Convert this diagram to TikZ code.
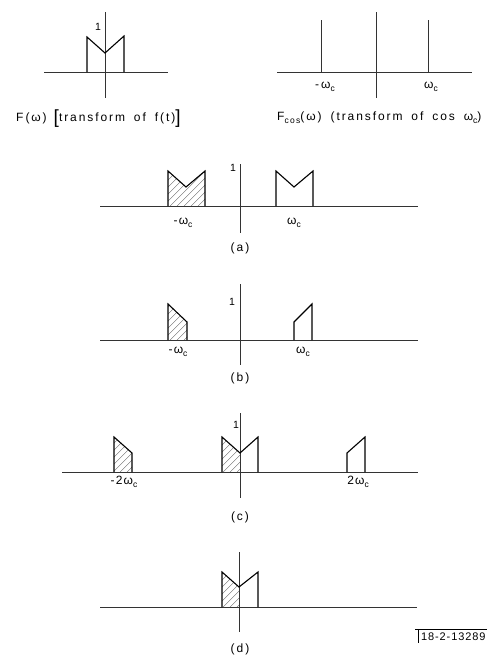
\documentclass[tikz,border=0pt]{standalone}
\usepackage{fontspec}
\setmainfont{Liberation Sans}[LetterSpace=10]
\newfontfamily\capfont{Liberation Sans}[LetterSpace=16,WordSpace=1.7]
\newfontfamily\tagfont{Liberation Sans}[LetterSpace=8]
\newcommand{\sbc}[1]{\raisebox{-0.5ex}{\fontsize{8.5}{8.5}\selectfont #1}}
\begin{document}
\begin{tikzpicture}[x=1pt,y=-1pt,
  axisline/.style={line width=0.6pt, black!80},
  sigline/.style={line width=1.1pt, line join=miter},
  impulse/.style={line width=0.6pt, black!80},
  hatchline/.style={line width=0.35pt, black!60},
  onelbl/.style={font=\fontsize{10.5}{10.5}\selectfont, inner sep=0pt},
  lbl/.style={font=\fontsize{12}{12}\selectfont, inner sep=0pt},
  captext/.style={font=\capfont\fontsize{12}{12}\selectfont, inner sep=0pt}]
\useasboundingbox (0,0) rectangle (487,656);
% ---------- top left
\draw[axisline] (44,72) -- (168,72);
\draw[axisline] (105,12) -- (105,98);
\draw[sigline] (87,72) -- (87,37) -- (105,53) -- (124,36) -- (124,72);
\node[onelbl] (one0) at (98,27) {1};
\node[captext, anchor=base west] (capL) at (16,121) {F\,(ω)\hspace{7pt}\raisebox{-0.22em}{\fontsize{19}{19}\selectfont[}transform of f(t)\raisebox{-0.22em}{\fontsize{19}{19}\selectfont]}};
% ---------- top right
\draw[axisline] (277,72) -- (472,72);
\draw[axisline] (376,12) -- (376,98);
\draw[impulse] (321,20) -- (321,72);
\draw[impulse] (428,20) -- (428,72);
\node[lbl] (mwc0) at (325,87) {-\,ω\sbc{c}};
\node[lbl] (wc0) at (431,87) {ω\sbc{c}};
\node[captext, anchor=base west] (capR) at (277,120.5) {F\sbc{cos}(ω) (transform of cos ω\sbc{c})};
% ---------- (a)
\draw[axisline] (100,206) -- (418,206);
\draw[axisline] (240,164) -- (240,233);
\begin{scope}
\clip (168,206) -- (168,171) -- (186,187) -- (205,171) -- (205,206) -- cycle;
\foreach \k in {0,7,...,100} \draw[hatchline] (100+\k,206) -- ++(60,-60);
\end{scope}
\draw[sigline] (168,206) -- (168,171) -- (186,187) -- (205,171) -- (205,206);
\draw[sigline] (276,206) -- (276,171) -- (294,187) -- (313,171) -- (313,206);
\node[onelbl] (onea) at (233,168) {1};
\node[lbl] (mwca) at (183,223) {-ω\sbc{c}};
\node[lbl] (wca) at (294,223) {ω\sbc{c}};
\node[captext] (capa) at (240,248) {(\,a\,)};
% ---------- (b)
\draw[axisline] (100,340) -- (418,340);
\draw[axisline] (240,284) -- (240,365);
\begin{scope}
\clip (168,340) -- (168,304) -- (187,322) -- (187,340) -- cycle;
\foreach \k in {0,7,...,100} \draw[hatchline] (100+\k,340) -- ++(60,-60);
\end{scope}
\draw[sigline] (168,340) -- (168,304) -- (187,322) -- (187,340);
\draw[sigline] (294,340) -- (294,322) -- (312,304) -- (312,340);
\node[onelbl] (oneb) at (232,302) {1};
\node[lbl] (mwcb) at (178,352) {-ω\sbc{c}};
\node[lbl] (wcb) at (303,352) {ω\sbc{c}};
\node[captext] (capb) at (240,378) {(\,b\,)};
% ---------- (c)
\draw[axisline] (62,472) -- (418,472);
\draw[axisline] (240,413) -- (240,498);
\begin{scope}
\clip (114,472) -- (114,437) -- (132,453) -- (132,472) -- cycle;
\foreach \k in {0,7,...,100} \draw[hatchline] (50+\k,472) -- ++(60,-60);
\end{scope}
\begin{scope}
\clip (222,472) -- (222,437) -- (240,453) -- (240,472) -- cycle;
\foreach \k in {0,7,...,100} \draw[hatchline] (160+\k,472) -- ++(60,-60);
\end{scope}
\draw[sigline] (114,472) -- (114,437) -- (132,453) -- (132,472);
\draw[sigline] (222,472) -- (222,437) -- (240,453) -- (258,437) -- (258,472);
\draw[sigline] (347,472) -- (347,453) -- (365,437) -- (365,472);
\node[onelbl] (onec) at (236,425) {1};
\node[lbl] (mwcc) at (124,482) {-2ω\sbc{c}};
\node[lbl] (wcc) at (358,482) {2ω\sbc{c}};
\node[captext] (capc) at (240,517) {(\,c\,)};
% ---------- (d)
\draw[axisline] (100,607) -- (417,607);
\draw[axisline] (239,552) -- (239,632);
\begin{scope}
\clip (222,607) -- (222,572) -- (239,587) -- (239,607) -- cycle;
\foreach \k in {0,7,...,100} \draw[hatchline] (160+\k,607) -- ++(60,-60);
\end{scope}
\draw[sigline] (222,607) -- (222,572) -- (239,587) -- (258,572) -- (258,607);
\node[captext] (capd) at (240,649) {(\,d\,)};
% ---------- tag
\draw[line width=0.8pt] (415,629) -- (487,629);
\draw[line width=0.8pt] (418,629) -- (418,643);
\node[inner sep=0pt, anchor=base west, font=\tagfont\fontsize{11}{11}\selectfont] (tag) at (421,640.5) {18-2-13289};
\end{tikzpicture}
\end{document}
